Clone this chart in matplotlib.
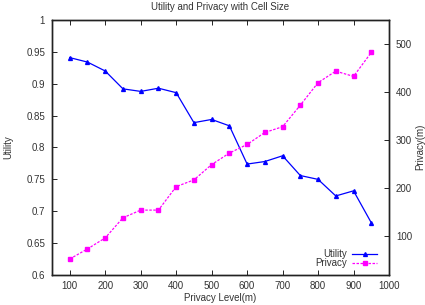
import matplotlib
matplotlib.use('Agg')
import matplotlib.pyplot as plt

plt.rcParams['font.family'] = ['Liberation Sans', 'DejaVu Sans']

# данные с графика
levels = [100, 150, 200, 250, 300, 350, 400, 450, 500, 550,
          600, 650, 700, 750, 800, 850, 900, 950]
utility = [0.941, 0.934, 0.920, 0.892, 0.888, 0.893, 0.886, 0.839, 0.844, 0.834,
           0.774, 0.778, 0.787, 0.756, 0.750, 0.724, 0.732, 0.682]
privacy = [52, 73, 96, 138, 154, 154, 203, 217, 249, 273,
           291, 316, 328, 373, 420, 444, 433, 483]
util_ticks = [0.6, 0.65, 0.7, 0.75, 0.8, 0.85, 0.9, 0.95, 1]
util_labels = ['0.6', '0.65', '0.7', '0.75', '0.8', '0.85', '0.9', '0.95', '1']
priv_ticks = [100, 200, 300, 400, 500]
x_ticks = [100, 200, 300, 400, 500, 600, 700, 800, 900, 1000]

txt = '#333333'
fs = 7

fig = plt.figure(figsize=(4.25, 3.05), dpi=100)
ax = fig.add_axes([0.1224, 0.0984, 0.7929, 0.836])
ax2 = ax.twinx()

l1, = ax.plot(levels, utility, color='#0000ff', lw=0.9, marker='^', markersize=2.8,
              label='Utility')
l2, = ax2.plot(levels, privacy, color='#ff00ff', lw=0.9, ls=(0, (2, 1.2)), marker='s',
               markersize=3.2, label='Privacy')

ax.set_xlim(50, 1000)
ax.set_ylim(0.6, 1)
ax2.set_ylim(18.6, 550.7)
ax.set_xticks(x_ticks)
ax.set_yticks(util_ticks)
ax.set_yticklabels(util_labels)
ax2.set_yticks(priv_ticks)

ax.tick_params(axis='x', direction='in', top=True, length=3.5, width=0.6,
               labelsize=fs, labelcolor=txt, pad=4)
ax.tick_params(axis='y', direction='in', length=3.5, width=0.6,
               labelsize=fs, labelcolor=txt, pad=5)
ax2.tick_params(axis='y', direction='in', length=3.5, width=0.6,
                labelsize=fs, labelcolor=txt, pad=5)
for a in (ax, ax2):
    for s in a.spines.values():
        s.set_linewidth(1.0)
        s.set_color('#222222')

ax.set_title('Utility and Privacy with Cell Size', fontsize=fs, color=txt, pad=7)
ax.set_xlabel('Privacy Level(m)', fontsize=fs, color=txt, labelpad=2)
ax.set_ylabel('Utility', fontsize=fs, color=txt)
ax.yaxis.set_label_coords(-0.115, 0.5)
fig.text(0.988, 0.52, 'Privacy(m)', rotation=90, fontsize=fs, color=txt,
         ha='center', va='center')

leg = ax2.legend([l1, l2], ['Utility', 'Privacy'], loc='lower right', frameon=False,
                 markerfirst=False, fontsize=fs, labelcolor=txt, handlelength=2.6,
                 handletextpad=0.5, labelspacing=-0.1, borderaxespad=0.3,
                 bbox_to_anchor=(0.985, 0.0))
for t in leg.get_texts():
    t.set_ha('right')

fig.savefig('out.png', dpi=100)
